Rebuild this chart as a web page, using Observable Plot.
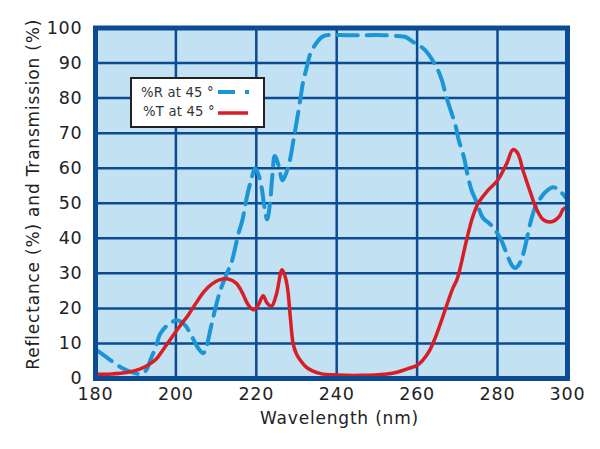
<!DOCTYPE html>
<html>
<head>
<meta charset="utf-8">
<script src="https://cdn.jsdelivr.net/npm/d3@7"></script>
<script src="https://cdn.jsdelivr.net/npm/@observablehq/plot@0.6"></script>
<style>
  html, body { margin: 0; padding: 0; background: white; }
</style>
</head>
<body>
<div id="chart"></div>
<script>
// %T at 45° (transmission)
const wavelengthT = [180,184,188,191,193,195,197,199,201,203,205,207,209,211,213,215,216.5,218,219.3,220.5,221.7,222.7,223.8,225,226.4,227.2,227.8,228.5,229.2,230,230.6,232.7,236,240,246,252,255,257.7,260.2,262.7,264.3,266,267.7,268.9,270,272.2,273.8,275.2,277.5,280,282.7,284.4,285.7,287.4,289.3,291.2,293.1,295.4,297.7,298.7,300];
const transmission = [1.2,1.3,1.8,2.7,3.8,5.4,8.5,11.8,15,18,21.5,24.8,27,28.2,28.4,27.2,24.5,21,19.6,21,23.6,21.5,20.6,24,31,29,25.5,17,9.7,7,5.8,3,1.4,1,0.9,1.2,1.8,2.8,3.9,7.2,11,16.3,22,25.8,28.5,39,46,50,53.5,56.5,61.5,65.3,64.4,59,53.4,48.2,45.3,44.7,46.3,48.2,49];

// %R at 45° (reflectance)
const wavelengthR = [180,182,184,186.6,189,191.4,192.7,193.7,195,196,197.5,198.7,200,201.3,202.5,203.6,204.6,205.7,206.8,207.6,208.4,209.6,211,212.7,213.9,215.6,216.5,217.7,218.8,219.7,220.6,221.4,222,222.7,223.4,224,224.6,225.5,226.5,227.4,228.3,229.2,230,231,231.6,232.6,233.4,235,236.7,240,245,250,255.2,257,259.3,261.8,264.7,266.2,267.2,268.5,269.7,270.2,271.8,272.2,273.5,274.7,276.4,278.3,280.8,282.7,284,285,286,287,288.2,289.3,290.7,292,293.5,295.9,298.3,300];
const reflectance = [8.3,6.7,5,3,1.8,1.3,2.5,5.4,9,12.5,14.8,15.8,16.6,16.2,14.9,12.8,10.6,8.4,7.2,9,13,19,25,30,33.4,41.5,45,52,57,60,58,54,49,45.4,50,58,63.5,61,56.5,58.5,62,67.7,73,80,84.4,89,92.5,95.8,97.7,98,97.9,98,97.7,97.5,95.8,93.9,89.1,85,80.6,76,71.5,68.7,62.5,60,53.9,50.6,45.8,43.9,40,35.4,32.5,31.5,32.3,34.4,39,44,48.7,51,53,54.6,53,51];

const xTicks = [180,200,220,240,260,280,300];
const yTicks = [0,10,20,30,40,50,60,70,80,90,100];
const seriesNames = ["%R at 45\u00a0°", "%T at 45\u00a0°"];
const xLabel = "Wavelength (nm)";
const yLabel = "Reflectance (%) and Transmission (%)";

const T = wavelengthT.map((w, i) => ({w, v: transmission[i]}));
const R = wavelengthR.map((w, i) => ({w, v: reflectance[i]}));

const navy = "#0d4a94";
const blue = "#1b95d6";
const red = "#d81e24";
const ink = "#222";

const svg = Plot.plot({
  width: 600,
  height: 449,
  marginTop: 27.5,
  marginBottom: 71,
  marginLeft: 95,
  marginRight: 33,
  style: {fontFamily: "DejaVu Sans", fontSize: "17.5px", color: ink, background: "white", letterSpacing: "0.8px"},
  x: {type: "linear", domain: [180, 280, 300], range: [95, 497, 567]},
  y: {type: "linear", domain: [0, 100]},
  marks: [
    Plot.frame({fill: "#c2e1f2"}),
    Plot.gridX(xTicks, {stroke: navy, strokeOpacity: 1, strokeWidth: 2.5}),
    Plot.gridY(yTicks, {stroke: navy, strokeOpacity: 1, strokeWidth: 2.5}),
    Plot.line(R, {x: "w", y: "v", stroke: blue, strokeWidth: 4, strokeDasharray: "20,9", curve: "catmull-rom"}),
    Plot.line(T, {x: "w", y: "v", stroke: red, strokeWidth: 3.5, curve: "catmull-rom"}),
    Plot.frame({stroke: navy, strokeWidth: 5}),
    Plot.axisX(xTicks, {tickSize: 0, tickPadding: 9, label: null}),
    Plot.axisY(yTicks, {tickSize: 0, tickPadding: 13, label: null}),
    Plot.text([xLabel], {text: d => d, frameAnchor: "bottom", textAnchor: "middle", lineAnchor: "middle", dx: 8, dy: 40, fontSize: 17, fill: ink}),
    Plot.text([yLabel], {text: d => d, frameAnchor: "left", textAnchor: "middle", lineAnchor: "middle", rotate: -90, dx: -62, dy: -9, fontSize: 17, fill: ink})
  ]
});

// Legend box inside the plot area
const g = d3.select(svg).append("g")
  .attr("style", "font-family: 'DejaVu Sans'; font-size: 13.2px; letter-spacing: 0.2px;")
  .attr("fill", "#333");
g.append("rect").attr("x", 131).attr("y", 78).attr("width", 133).attr("height", 49)
  .attr("fill", "white").attr("stroke", ink).attr("stroke-width", 2);
g.append("text").attr("x", 141).attr("y", 97).attr("text-anchor", "start").text(seriesNames[0]);
g.append("text").attr("x", 143).attr("y", 116).attr("text-anchor", "start").text(seriesNames[1]);
g.append("line").attr("x1", 218).attr("x2", 250).attr("y1", 92).attr("y2", 92)
  .attr("stroke", blue).attr("stroke-width", 4).attr("stroke-dasharray", "17,10,4,100");
g.append("line").attr("x1", 218).attr("x2", 248).attr("y1", 113).attr("y2", 113)
  .attr("stroke", red).attr("stroke-width", 3.5);

document.getElementById("chart").appendChild(svg);
</script>
</body>
</html>
